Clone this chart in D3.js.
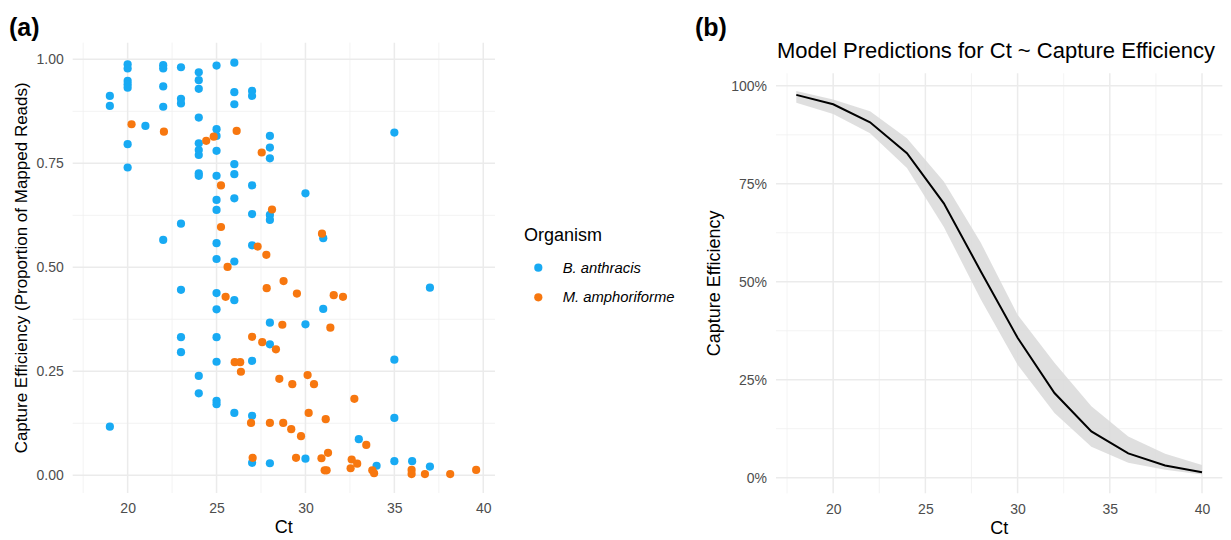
<!DOCTYPE html>
<html><head><meta charset="utf-8">
<script src="https://cdn.jsdelivr.net/npm/d3@7"></script>
<style>
html,body{margin:0;padding:0;background:#fff;}
svg{display:block;font-family:"Liberation Sans",Arial,Helvetica,sans-serif;}
</style></head>
<body>
<svg id="chart" width="1231" height="540"></svg>
<script>
// ---------- Data (panel a) ----------
const baCt = [19,19,19,
  20,20,20,20,20,20,20,
  21,
  22,22,22,22,22,
  23,23,23,23,23,23,23,
  24,24,24,24,24,24,24,24,24,24,24,
  25,25,25,25,25,25,25,25,25,25,25,25,25,25,25,
  26,26,26,26,26,26,26,26,26,
  27,27,27,27,27,27,27,27,
  28,28,28,28,28,28,28,28,
  30,30,30,
  31,31,
  33,34,
  35,35,35,35,
  36,
  37,37];
const baCE = [0.912,0.888,0.117,
  0.988,0.978,0.948,0.940,0.932,0.796,0.740,
  0.840,
  0.986,0.978,0.935,0.886,0.566,
  0.981,0.905,0.894,0.605,0.446,0.332,0.296,
  0.969,0.950,0.929,0.860,0.798,0.782,0.770,0.726,0.720,0.239,0.197,
  0.985,0.832,0.816,0.780,0.720,0.662,0.638,0.558,0.520,0.438,0.399,0.332,0.273,0.179,0.171,
  0.992,0.921,0.892,0.748,0.724,0.666,0.514,0.421,0.150,
  0.924,0.912,0.697,0.628,0.553,0.275,0.143,0.030,
  0.816,0.788,0.762,0.626,0.614,0.367,0.315,0.029,
  0.678,0.363,0.040,
  0.570,0.400,
  0.087,0.023,
  0.824,0.278,0.138,0.034,
  0.034,
  0.451,0.021];
const maCt = [20.22,22.04,24.42,24.84,26.13,27.54,25.25,28.12,25.25,30.93,27.31,27.8,25.62,28.77,27.82,29.52,25.51,31.59,32.11,28.7,31.4,27.0,27.57,28.34,26.02,26.33,26.37,28.53,30.12,29.26,30.48,32.75,30.18,31.14,26.94,28.0,28.75,29.2,29.75,33.42,31.27,27.03,29.47,30.9,32.6,32.91,32.54,31.08,31.19,33.76,33.86,35.97,35.97,36.72,38.14,39.6];
const maCE = [0.844,0.826,0.804,0.814,0.828,0.776,0.697,0.639,0.597,0.581,0.550,0.530,0.501,0.467,0.450,0.437,0.429,0.433,0.429,0.362,0.355,0.333,0.320,0.303,0.272,0.272,0.249,0.232,0.241,0.219,0.219,0.184,0.150,0.135,0.126,0.126,0.126,0.111,0.094,0.073,0.054,0.042,0.042,0.041,0.038,0.028,0.017,0.012,0.012,0.012,0.005,0.013,0.003,0.003,0.003,0.013];
const organisms = ["B. anthracis","M. amphoriforme"];
const orgColors = ["#18aaf3","#f7770f"];
const xTicksA = [20,25,30,35,40];
const yTicksA = [0,0.25,0.5,0.75,1];

// ---------- Data (panel b) ----------
const modelCt  = [18,20,22,24,26,28,30,32,34,36,38,40];
const modelFit = [0.977,0.953,0.907,0.828,0.700,0.527,0.357,0.216,0.118,0.062,0.031,0.014];
const modelLo  = [0.957,0.928,0.879,0.790,0.640,0.455,0.288,0.165,0.079,0.038,0.020,0.008];
const modelHi  = [0.987,0.965,0.935,0.866,0.756,0.600,0.416,0.293,0.182,0.105,0.061,0.032];
const xTicksB = [20,25,30,35,40];
const yTicksB = [0,0.25,0.5,0.75,1];

const svg = d3.select("#chart");
const gridMajor = "#ebebeb", gridMinor = "#f0f0f0";
const tickColor = "#4d4d4d";

// ---------- Panel (a) ----------
const xA = d3.scaleLinear().domain([16.91, 40.66]).range([72.7, 495]);
const yA = d3.scaleLinear().domain([-0.0425, 1.04]).range([493, 42.7]);
const gA = svg.append("g");
function grid(g, x, y, xt, yt) {
  const [x0,x1] = x.range(), [y0,y1] = y.range();
  const xMinor = xt.slice(0,-1).map((d,i)=> (d+xt[i+1])/2).concat([xt[0]-(xt[1]-xt[0])/2]);
  const yMinor = yt.slice(0,-1).map((d,i)=> (d+yt[i+1])/2);
  xMinor.forEach(v=>{ if (x(v)>=x0 && x(v)<=x1) g.append("line").attr("x1",x(v)).attr("x2",x(v)).attr("y1",y0).attr("y2",y1).attr("stroke",gridMinor).attr("stroke-width",0.8);});
  yMinor.forEach(v=>g.append("line").attr("x1",x0).attr("x2",x1).attr("y1",y(v)).attr("y2",y(v)).attr("stroke",gridMinor).attr("stroke-width",0.8));
  xt.forEach(v=>g.append("line").attr("x1",x(v)).attr("x2",x(v)).attr("y1",y0).attr("y2",y1).attr("stroke",gridMajor).attr("stroke-width",1.5));
  yt.forEach(v=>g.append("line").attr("x1",x0).attr("x2",x1).attr("y1",y(v)).attr("y2",y(v)).attr("stroke",gridMajor).attr("stroke-width",1.5));
}
grid(gA, xA, yA, xTicksA, yTicksA);

const axAx = gA.append("g").attr("transform","translate(0,493)")
  .call(d3.axisBottom(xA).tickValues(xTicksA).tickSize(0).tickPadding(10));
const ayAx = gA.append("g").attr("transform","translate(72.7,0)")
  .call(d3.axisLeft(yA).tickValues(yTicksA).tickFormat(d3.format(".2f")).tickSize(0).tickPadding(9));
[axAx, ayAx].forEach(a=>{ a.select(".domain").remove(); a.selectAll("text").attr("font-size",14).attr("fill",tickColor).attr("font-family","Liberation Sans, Arial, sans-serif");});

const ptsB = baCt.map((c,i)=>({x:c,y:baCE[i],o:0}));
const ptsM = maCt.map((c,i)=>({x:c,y:maCE[i],o:1}));
gA.selectAll("circle.p").data(ptsB.concat(ptsM)).enter().append("circle")
  .attr("cx",d=>xA(d.x)).attr("cy",d=>yA(d.y)).attr("r",4.1)
  .attr("fill",d=>orgColors[d.o]);

gA.append("text").attr("x",xA((16.91+40.66)/2)).attr("y",533).attr("text-anchor","middle")
  .attr("font-size",18).attr("fill","#000").text("Ct");
gA.append("text").attr("transform",`translate(27,${(493+42.7)/2}) rotate(-90)`).attr("text-anchor","middle")
  .attr("font-size",17).attr("fill","#000").text("Capture Efficiency (Proportion of Mapped Reads)");

// legend
const lg = svg.append("g");
lg.append("text").attr("x",524).attr("y",241).attr("font-size",18).text("Organism");
organisms.forEach((o,i)=>{
  const cy = 267.7 + i*29.6;
  lg.append("circle").attr("cx",538.3).attr("cy",cy).attr("r",4.1).attr("fill",orgColors[i]);
  lg.append("text").attr("x",562.7).attr("y",cy+5).attr("font-size",14.8).attr("font-style","italic").attr("fill","#000").text(o);
});

svg.append("text").attr("x",9).attr("y",36).attr("font-size",25).attr("font-weight","bold").text("(a)");

// ---------- Panel (b) ----------
const xB = d3.scaleLinear().domain([16.9, 41.1]).range([776, 1222.3]);
const yB = d3.scaleLinear().domain([-0.040, 1.032]).range([493.3, 73.3]);
const gB = svg.append("g");
grid(gB, xB, yB, xTicksB, yTicksB);
const bxAx = gB.append("g").attr("transform","translate(0,493.3)")
  .call(d3.axisBottom(xB).tickValues(xTicksB).tickSize(0).tickPadding(11));
const byAx = gB.append("g").attr("transform","translate(776,0)")
  .call(d3.axisLeft(yB).tickValues(yTicksB).tickFormat(d3.format(".0%")).tickSize(0).tickPadding(9));
[bxAx, byAx].forEach(a=>{ a.select(".domain").remove(); a.selectAll("text").attr("font-size",14).attr("fill",tickColor).attr("font-family","Liberation Sans, Arial, sans-serif");});

const modelData = modelCt.map((c,i)=>({x:c,f:modelFit[i],lo:modelLo[i],hi:modelHi[i]}));
gB.append("path").datum(modelData)
  .attr("d", d3.area().x(d=>xB(d.x)).y0(d=>yB(d.lo)).y1(d=>yB(d.hi)))
  .attr("fill","#d9d9d9").attr("fill-opacity",0.85);
gB.append("path").datum(modelData)
  .attr("d", d3.line().x(d=>xB(d.x)).y(d=>yB(d.f)))
  .attr("fill","none").attr("stroke","#000").attr("stroke-width",2);

gB.append("text").attr("x",xB((16.9+41.1)/2)).attr("y",534).attr("text-anchor","middle")
  .attr("font-size",18).text("Ct");
gB.append("text").attr("transform",`translate(720,${(493.3+73.3)/2}) rotate(-90)`).attr("text-anchor","middle")
  .attr("font-size",18).text("Capture Efficiency");
gB.append("text").attr("x",777).attr("y",58).attr("font-size",22).text("Model Predictions for Ct ~ Capture Efficiency");
svg.append("text").attr("x",695).attr("y",36).attr("font-size",25).attr("font-weight","bold").text("(b)");
</script>
</body></html>
